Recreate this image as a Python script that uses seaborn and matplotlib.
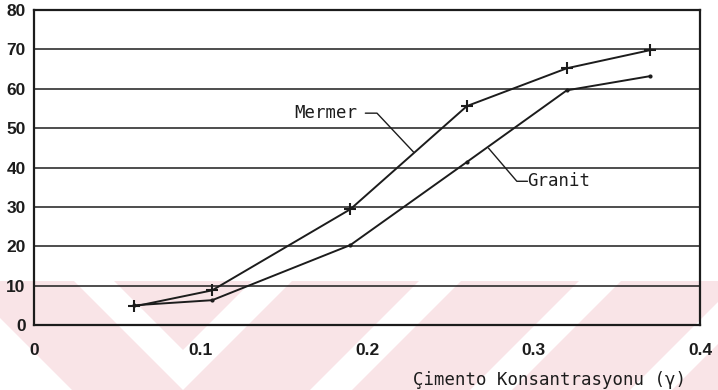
import matplotlib
matplotlib.use("Agg")
import matplotlib.pyplot as plt
import pandas as pd
import seaborn as sns
from matplotlib.patches import Polygon

# Cement concentration (gamma) and the measured values for the two stone types
concentration = [0.06, 0.107, 0.19, 0.26, 0.32, 0.37]
mermer = [4.7, 8.8, 29.4, 55.6, 65.2, 69.8]
granit = [5.0, 6.3, 20.3, 41.4, 59.6, 63.2]

x_ticks = [0, 0.1, 0.2, 0.3, 0.4]
x_tick_labels = ["0", "0.1", "0.2", "0.3", "0.4"]
y_ticks = [0, 10, 20, 30, 40, 50, 60, 70, 80]
y_tick_labels = ["0", "10", "20", "30", "40", "50", "60", "70", "80"]
x_label = "Çimento Konsantrasyonu (γ)"
series_names = ["Mermer", "Granit"]

INK = "#1c1c1c"
PINK = "#f9e4e7"
MONO = ["DejaVu Sans Mono"]
W, H = 718, 390

sns.set_theme(style="white")
plt.rcParams["font.family"] = ["Liberation Sans", "DejaVu Sans"]

df = pd.DataFrame({
    "gamma": concentration * 2,
    "value": mermer + granit,
    "tas": [series_names[0]] * len(mermer) + [series_names[1]] * len(granit),
})

fig = plt.figure(figsize=(W / 100, H / 100), dpi=100)
fig.patch.set_facecolor("white")
ax = fig.add_axes([34 / W, 1 - 325 / H, 666 / W, 315 / H])
ax.set_facecolor("none")


def fig_pts(points):
    return [(x / W, 1 - y / H) for x, y in points]


# pale pink banner with white diagonal bands across the lower part of the page
band_top, band_bot = 281, 390
fig.add_artist(Polygon(fig_pts([(0, band_top), (W, band_top), (W, band_bot), (0, band_bot)]),
                       closed=True, transform=fig.transFigure, facecolor=PINK,
                       edgecolor="none", zorder=-3))
white_shapes = [
    [(74, band_top), (183, 390), (292, band_top), (252, band_top), (183, 350), (114, band_top)],
    [(0, 318), (72, band_bot), (0, band_bot)],
]
for a in (700, 860, 1020, 1180):
    white_shapes.append([(a - band_top, band_top), (a + 42 - band_top, band_top),
                         (a + 42 - band_bot, band_bot), (a - band_bot, band_bot)])
for shape in white_shapes:
    fig.add_artist(Polygon(fig_pts(shape), closed=True, transform=fig.transFigure,
                           facecolor="white", edgecolor="none", zorder=-2))

# the two curves
sns.lineplot(data=df[df["tas"] == "Mermer"], x="gamma", y="value", color=INK,
             linewidth=1.4, marker="+", markersize=8.5, markeredgewidth=1.5,
             markeredgecolor=INK, ax=ax, legend=False, zorder=4)
sns.lineplot(data=df[df["tas"] == "Granit"], x="gamma", y="value", color=INK,
             linewidth=1.4, marker="o", markersize=3.0, markeredgewidth=0,
             markerfacecolor=INK, ax=ax, legend=False, zorder=4)

ax.set_xlim(0, 0.4)
ax.set_ylim(0, 80)
ax.set_xticks(x_ticks)
ax.set_xticklabels(x_tick_labels)
ax.set_yticks(y_ticks)
ax.set_yticklabels(y_tick_labels)
ax.set_xlabel("")
ax.set_ylabel("")

ax.grid(axis="y", color=INK, linewidth=1.1)
ax.grid(axis="x", visible=False)
ax.set_axisbelow(True)
for s in ax.spines.values():
    s.set_visible(True)
    s.set_color(INK)
    s.set_linewidth(1.6)

ax.tick_params(axis="x", direction="in", length=6, width=1.4, color=INK, pad=13,
               labelsize=12.5, labelcolor=INK)
ax.tick_params(axis="y", length=0, pad=6, labelsize=12.5, labelcolor=INK)
for lab in ax.get_xticklabels() + ax.get_yticklabels():
    lab.set_fontweight("bold")

# curve labels with leader lines
ax.text(0.194, 53.8, "Mermer", family=MONO, fontsize=12.5, color=INK,
        ha="right", va="center")
ax.plot([0.199, 0.206, 0.228], [53.8, 53.8, 43.9], color=INK, linewidth=1.0)
ax.text(0.2964, 36.5, "Granit", family=MONO, fontsize=12.5, color=INK,
        ha="left", va="center")
ax.plot([0.2964, 0.290, 0.273], [36.5, 36.5, 44.9], color=INK, linewidth=1.0)

fig.text(413 / W, 1 - 380 / H, x_label, family=MONO, fontsize=12.5, color=INK,
         ha="left", va="center")

fig.savefig("out.png", dpi=100)
